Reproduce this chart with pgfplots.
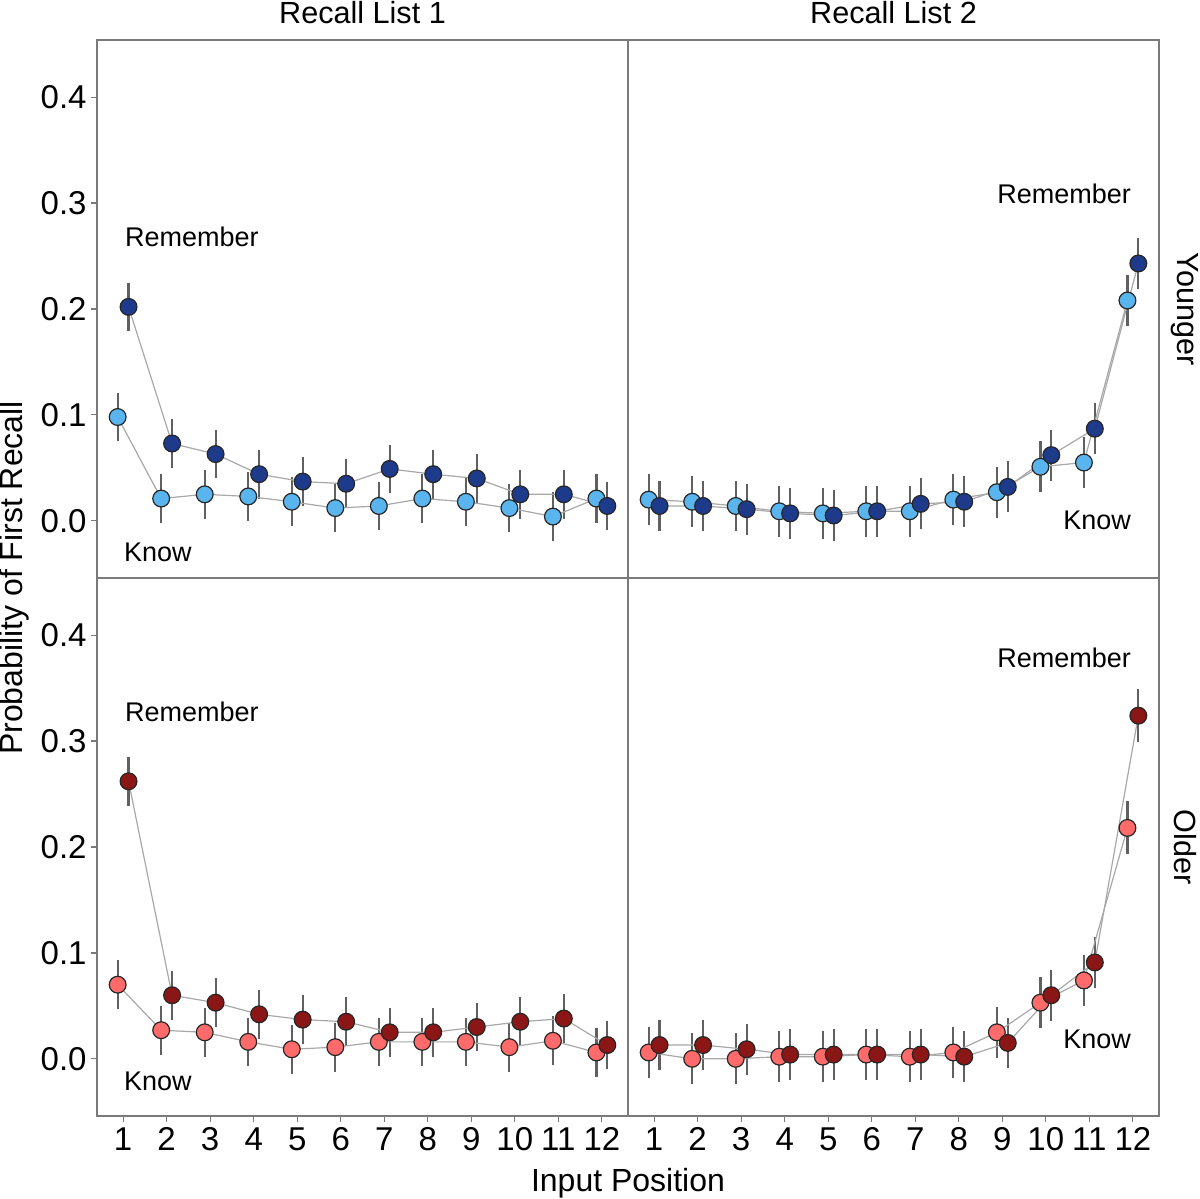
\documentclass[border=0pt]{standalone}
\usepackage{fontspec}
\setmainfont{Liberation Sans}
\usepackage{pgfplots}
\usepackage{pgfplotstable}
\pgfplotsset{compat=1.18}
\definecolor{lightblue}{HTML}{5AB4EE}
\definecolor{darkblue}{HTML}{1E3A8A}
\definecolor{lightred}{HTML}{FF6B6B}
\definecolor{darkred}{HTML}{8B1616}
\definecolor{ebar}{HTML}{606060}
\definecolor{linegray}{HTML}{A8A8A8}
\definecolor{framegray}{HTML}{7A7A7A}

\pgfplotstableread{
x k r ke re
1 0.098 0.202 0.023 0.023
2 0.021 0.073 0.023 0.023
3 0.025 0.063 0.023 0.023
4 0.023 0.044 0.023 0.023
5 0.018 0.037 0.023 0.023
6 0.012 0.035 0.023 0.023
7 0.014 0.049 0.023 0.023
8 0.021 0.044 0.023 0.023
9 0.018 0.040 0.023 0.023
10 0.012 0.025 0.023 0.023
11 0.004 0.025 0.023 0.023
12 0.021 0.014 0.023 0.023
}\YLone

\pgfplotstableread{
x k r ke re
1 0.020 0.014 0.024 0.024
2 0.018 0.014 0.024 0.024
3 0.014 0.011 0.024 0.024
4 0.009 0.007 0.024 0.024
5 0.007 0.005 0.024 0.024
6 0.009 0.009 0.024 0.024
7 0.009 0.016 0.024 0.024
8 0.020 0.018 0.024 0.024
9 0.027 0.032 0.024 0.024
10 0.051 0.062 0.024 0.024
11 0.055 0.087 0.024 0.024
12 0.208 0.243 0.024 0.024
}\YLtwo

\pgfplotstableread{
x k r ke re
1 0.070 0.262 0.023 0.023
2 0.027 0.060 0.023 0.023
3 0.025 0.053 0.023 0.023
4 0.016 0.042 0.023 0.023
5 0.009 0.037 0.023 0.023
6 0.011 0.035 0.023 0.023
7 0.016 0.025 0.023 0.023
8 0.016 0.025 0.023 0.023
9 0.016 0.030 0.023 0.023
10 0.011 0.035 0.023 0.023
11 0.017 0.038 0.023 0.023
12 0.006 0.013 0.023 0.023
}\OLone

\pgfplotstableread{
x k r ke re
1 0.006 0.013 0.024 0.024
2 0.000 0.013 0.024 0.024
3 0.000 0.009 0.024 0.024
4 0.002 0.004 0.024 0.024
5 0.002 0.004 0.024 0.024
6 0.004 0.004 0.024 0.024
7 0.002 0.004 0.024 0.024
8 0.006 0.002 0.024 0.024
9 0.025 0.015 0.024 0.024
10 0.053 0.060 0.024 0.024
11 0.074 0.091 0.024 0.024
12 0.218 0.324 0.025 0.025
}\OLtwo

\tikzset{lab/.style={font=\fontsize{13.5}{16}\selectfont}}

\pgfplotsset{
  panel/.style={
    scale only axis, width=265.5pt, height=269pt,
    xmin=0.4, xmax=12.6, ymin=-0.054, ymax=0.454,
    axis line style={draw=framegray, line width=0.6pt},
    tick align=outside, major tick length=3pt,
    tick style={draw=framegray, line width=0.6pt},
    xtick={1,2,3,4,5,6,7,8,9,10,11,12},
    xticklabels={1,2,3,4,5,6,7,8,9,10,11,12},
    ytick={0,0.1,0.2,0.3,0.4},
    yticklabels={0.0,0.1,0.2,0.3,0.4},
    xtick pos=bottom, ytick pos=left,
    ticklabel style={font=\fontsize{16.5}{19}\selectfont, text=black},
    xticklabel style={inner sep=2.5pt},
    yticklabel style={inner sep=2pt},
    clip=false,
  },
  noy/.style={ytick=\empty},
  nox/.style={xtick=\empty},
  ebars/.style={draw=none, mark=none, forget plot,
    error bars/.cd, y dir=both, y explicit, error mark=none,
    error bar style={draw=ebar, line width=1.1pt}},
  conn/.style={draw=linegray, line width=0.6pt, mark=none, forget plot},
  pts/.style={only marks, mark=*, mark size=4.2pt, forget plot,
    mark options={fill=#1, draw=black!85, line width=0.6pt}},
}

\newcommand{\panelplots}[3]{%
  \addplot[ebars] table[x expr=\thisrow{x}-0.125, y=k, y error=ke] {#1};
  \addplot[ebars] table[x expr=\thisrow{x}+0.125, y=r, y error=re] {#1};
  \addplot[conn] table[x expr=\thisrow{x}-0.125, y=k] {#1};
  \addplot[conn] table[x expr=\thisrow{x}+0.125, y=r] {#1};
  \addplot[pts=#2] table[x expr=\thisrow{x}-0.125, y=k] {#1};
  \addplot[pts=#3] table[x expr=\thisrow{x}+0.125, y=r] {#1};
}

\begin{document}
\begin{tikzpicture}
\useasboundingbox (-48.5pt,-41.5pt) rectangle (551.5pt,558pt);

% Younger, List 1
\begin{axis}[panel, nox, at={(0pt,269pt)}, anchor=south west]
  \panelplots{\YLone}{lightblue}{darkblue}
  \node[lab] at (axis cs:2.58,0.268) {Remember};
  \node[lab] at (axis cs:1.80,-0.030) {Know};
\end{axis}

% Younger, List 2
\begin{axis}[panel, nox, noy, at={(265.5pt,269pt)}, anchor=south west]
  \panelplots{\YLtwo}{lightblue}{darkblue}
  \node[lab] at (axis cs:10.42,0.309) {Remember};
  \node[lab] at (axis cs:11.18,0.000) {Know};
\end{axis}

% Older, List 1
\begin{axis}[panel, at={(0pt,0pt)}, anchor=south west]
  \panelplots{\OLone}{lightred}{darkred}
  \node[lab] at (axis cs:2.58,0.328) {Remember};
  \node[lab] at (axis cs:1.80,-0.021) {Know};
\end{axis}

% Older, List 2
\begin{axis}[panel, noy, at={(265.5pt,0pt)}, anchor=south west]
  \panelplots{\OLtwo}{lightred}{darkred}
  \node[lab] at (axis cs:10.42,0.379) {Remember};
  \node[lab] at (axis cs:11.18,0.018) {Know};
\end{axis}

% strip labels and axis titles
\node[font=\fontsize{15.3}{18}\selectfont] at (132.75pt,551.5pt) {Recall List 1};
\node[font=\fontsize{15.3}{18}\selectfont] at (398.25pt,551.5pt) {Recall List 2};
\node[font=\fontsize{15.3}{18}\selectfont, rotate=-90] at (544pt,403.5pt) {Younger};
\node[font=\fontsize{15.3}{18}\selectfont, rotate=-90] at (544pt,134.5pt) {Older};
\node[font=\fontsize{16}{19}\selectfont] at (265.5pt,-33.5pt) {Input Position};
\node[font=\fontsize{16}{19}\selectfont, rotate=90] at (-41.5pt,269pt) {Probability of First Recall};
\end{tikzpicture}
\end{document}
